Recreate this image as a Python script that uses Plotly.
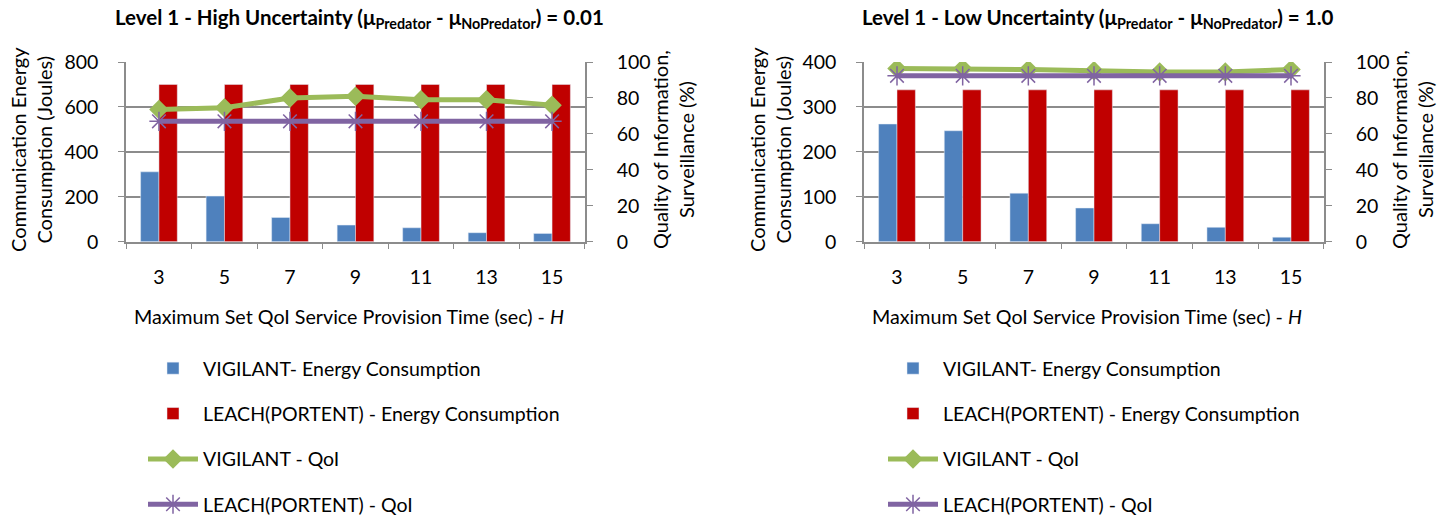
import plotly.graph_objects as go

# ---------------- data ----------------
categories = ["3", "5", "7", "9", "11", "13", "15"]

# Left chart: High uncertainty
vigilant_energy_high = [311, 203, 108, 74, 62, 40, 37]
leach_energy_high = [700, 700, 700, 700, 700, 700, 700]
vigilant_qoi_high = [73.5, 74.5, 80, 81, 79, 79, 76]
leach_qoi_high = [67, 67, 67, 67, 67, 67, 67]

# Right chart: Low uncertainty
vigilant_energy_low = [262, 247, 108, 75, 40, 32, 10]
leach_energy_low = [338, 338, 338, 338, 338, 338, 338]
vigilant_qoi_low = [96.4, 96.4, 95.8, 95.2, 94.4, 94.4, 95.8]
leach_qoi_low = [92.3, 92.3, 92.3, 92.3, 92.3, 92.3, 92.3]

series_names = ["VIGILANT- Energy Consumption", "LEACH(PORTENT) - Energy Consumption",
                "VIGILANT - QoI", "LEACH(PORTENT) - QoI"]

left_ticks = [0, 200, 400, 600, 800]
right_ticks = [0, 100, 200, 300, 400]
qoi_ticks = [0, 20, 40, 60, 80, 100]

titles = ["Level 1 - High Uncertainty (μ<sub>Predator</sub> - μ<sub>NoPredator</sub>) = 0.01",
          "Level 1 - Low Uncertainty (μ<sub>Predator</sub> - μ<sub>NoPredator</sub>) = 1.0"]
x_title = "Maximum Set QoI Service Provision Time (sec) - <i>H</i>"
y_title = "Communication Energy<br>Consumption (Joules)"
y2_title = "Quality of Information,<br>Surveillance (%)"

# ---------------- style ----------------
W, H = 1447, 518
FONT = "Lato, Carlito, Calibri, Liberation Sans, sans-serif"
BLUE, RED, GREEN, PURPLE = "#4F81BD", "#C00000", "#9BBB59", "#8064A2"
GRID = "#8C8C8C"
TXT = "#000000"

def px_x(p):
    return p / W

def px_y(p):
    return 1 - p / H

x1_dom = [px_x(126), px_x(585)]
x2_dom = [px_x(864), px_x(1324)]
y_dom = [px_y(241.7), px_y(62)]

fig = go.Figure()

def add_chart(xa, ya, ya2, legend, ve, le, vq, lq):
    fig.add_trace(go.Bar(x=categories, y=ve, name=series_names[0], marker_color=BLUE,
                         xaxis=xa, yaxis=ya, legend=legend, legendgroup=legend + "a",
                         offsetgroup="a"))
    fig.add_trace(go.Bar(x=categories, y=le, name=series_names[1], marker_color=RED,
                         xaxis=xa, yaxis=ya, legend=legend, legendgroup=legend + "b",
                         offsetgroup="b"))
    fig.add_trace(go.Scatter(x=categories, y=vq, name=series_names[2], mode="lines+markers",
                             line=dict(color=GREEN, width=5),
                             marker=dict(symbol="diamond", size=15, color=GREEN),
                             xaxis=xa, yaxis=ya2, legend=legend, legendgroup=legend + "c"))
    fig.add_trace(go.Scatter(x=categories, y=lq, name=series_names[3], mode="lines+markers",
                             line=dict(color=PURPLE, width=5),
                             marker=dict(symbol="asterisk-open", size=16, color=PURPLE,
                                         line=dict(color=PURPLE, width=1.5)),
                             xaxis=xa, yaxis=ya2, legend=legend, legendgroup=legend + "d"))

add_chart("x", "y", "y2", "legend", vigilant_energy_high, leach_energy_high,
          vigilant_qoi_high, leach_qoi_high)
add_chart("x2", "y3", "y4", "legend2", vigilant_energy_low, leach_energy_low,
          vigilant_qoi_low, leach_qoi_low)

tickfont = dict(family=FONT, size=19.5, color=TXT)

xaxis_common = dict(type="category", tickson="boundaries", ticks="outside", ticklen=6,
                    tickcolor=GRID, showline=True, linecolor=GRID, linewidth=1.5,
                    showgrid=False, tickfont=tickfont, ticklabelstandoff=17,
                    automargin=False, fixedrange=True)
yaxis_common = dict(ticks="outside", ticklen=6, tickcolor=GRID, showline=True,
                    linecolor=GRID, linewidth=1.5, tickfont=tickfont, zeroline=False,
                    automargin=False, fixedrange=True)

legend_common = dict(xanchor="left", yanchor="top",
                     font=dict(family=FONT, size=19.5, color=TXT), tracegroupgap=17,
                     bgcolor="rgba(0,0,0,0)", itemwidth=50)

fig.update_layout(
    width=W, height=H,
    margin=dict(l=0, r=0, t=0, b=0, autoexpand=False),
    paper_bgcolor="white", plot_bgcolor="white",
    barmode="group", bargap=0.44, bargroupgap=0,
    font=dict(family=FONT, size=19.5, color=TXT),
    xaxis=dict(domain=x1_dom, anchor="y", **xaxis_common),
    xaxis2=dict(domain=x2_dom, anchor="y3", **xaxis_common),
    yaxis=dict(domain=y_dom, anchor="x", range=[0, 800], tickvals=left_ticks,
               showgrid=True, gridcolor=GRID, gridwidth=1.5, ticklabelstandoff=16,
               **yaxis_common),
    yaxis2=dict(domain=y_dom, anchor="x", overlaying="y", side="right", range=[0, 100],
                tickvals=qoi_ticks, showgrid=False, ticklabelstandoff=20, **yaxis_common),
    yaxis3=dict(domain=y_dom, anchor="x2", range=[0, 400], tickvals=right_ticks,
                showgrid=True, gridcolor=GRID, gridwidth=1.5, ticklabelstandoff=16,
                **yaxis_common),
    yaxis4=dict(domain=y_dom, anchor="x2", overlaying="y3", side="right", range=[0, 100],
                tickvals=qoi_ticks, showgrid=False, ticklabelstandoff=20, **yaxis_common),
    legend=dict(x=px_x(143), y=px_y(349), **legend_common),
    legend2=dict(x=px_x(883), y=px_y(349), **legend_common),
    showlegend=True,
)

annots = []
for dom, t in ((x1_dom, titles[0]), (x2_dom, titles[1])):
    cx = (dom[0] + dom[1]) / 2
    annots.append(dict(text="<b>" + t + "</b>", x=cx + px_x(4), y=px_y(18), xref="paper",
                       yref="paper", xanchor="center", yanchor="middle", showarrow=False,
                       font=dict(family=FONT, size=20.5, color=TXT)))
    annots.append(dict(text=x_title, x=cx - px_x(7), y=px_y(316), xref="paper", yref="paper",
                       xanchor="center", yanchor="middle", showarrow=False,
                       font=dict(family=FONT, size=19.7, color=TXT)))
for xc, t in ((31, y_title), (673, y2_title), (770, y_title), (1412, y2_title)):
    annots.append(dict(text=t, x=px_x(xc), y=px_y(150), xref="paper", yref="paper",
                       textangle=-90, xanchor="center", yanchor="middle", showarrow=False,
                       font=dict(family=FONT, size=20, color=TXT)))
fig.update_layout(annotations=annots)

fig.write_html("out.html")
